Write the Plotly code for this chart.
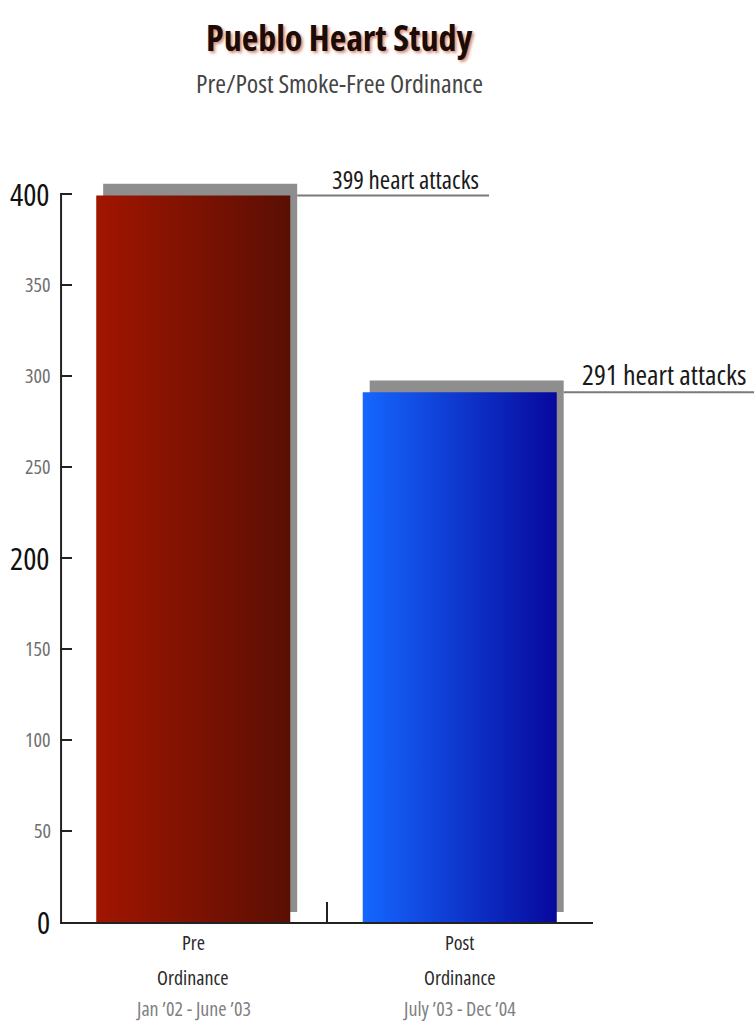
import plotly.graph_objects as go

# ---- data ----
categories = ["Pre", "Post"]
category_line2 = ["Ordinance", "Ordinance"]
category_periods = ["Jan \u201902 - June \u201903", "July \u201903 - Dec \u201904"]
heart_attacks = [399, 291]
value_labels = ["399 heart attacks", "291 heart attacks"]
y_ticks = [0, 50, 100, 150, 200, 250, 300, 350, 400]
title_text = "Pueblo Heart Study"
subtitle_text = "Pre/Post Smoke-Free Ordinance"

FONT = "Open Sans, DejaVu Sans, sans-serif"
gradients = [
    [[0, "#a11500"], [1, "#5a0f04"]],
    [[0, "#1567ff"], [1, "#07089c"]],
]
VALUE_LABEL_SIZES = [25, 28]
BAR_W = 0.728
SH_DX = 0.026
SH_DY = 6.4
X_RANGE = [-0.5, 1.5]
Y_RANGE = [0, 413]

fig = go.Figure()
for i, v in enumerate(heart_attacks):
    x0, x1 = i - BAR_W / 2, i + BAR_W / 2
    fig.add_trace(go.Scatter(
        x=[x0 + SH_DX, x1 + SH_DX, x1 + SH_DX, x0 + SH_DX, x0 + SH_DX],
        y=[5.5, 5.5, v + SH_DY, v + SH_DY, 5.5],
        fill="toself", fillcolor="#8e8e8e", mode="lines", line=dict(width=0),
        hoverinfo="skip", showlegend=False))
    fig.add_trace(go.Scatter(
        x=[x0, x1, x1, x0, x0], y=[0, 0, v, v, 0],
        fill="toself", mode="lines", line=dict(width=0),
        fillgradient=dict(type="horizontal", colorscale=gradients[i]),
        name=categories[i], showlegend=False))

def to_paper(x):
    return (x - X_RANGE[0]) / (X_RANGE[1] - X_RANGE[0])

def cond(s):
    return '<span style="font-stretch:75%">' + s + '</span>'

def f(size, color, weight="normal", shadow=None):
    d = dict(family=FONT, size=size, color=color, weight=weight)
    if shadow:
        d["shadow"] = shadow
    return d

shapes = []
annotations = []
LINE_LEN = 0.36
for i, v in enumerate(heart_attacks):
    px0 = to_paper(i + BAR_W / 2 + SH_DX)
    px1 = px0 + LINE_LEN
    shapes.append(dict(type="line", xref="paper", yref="y", x0=px0, x1=px1, y0=v, y1=v,
                       line=dict(color="#7a7a7a", width=2)))
    annotations.append(dict(text=cond(value_labels[i]), xref="paper", yref="y", x=px1, y=v,
                            xanchor="right", yanchor="bottom", xshift=-8, yshift=-3,
                            showarrow=False, font=f(VALUE_LABEL_SIZES[i], "#1a1a1a")))

shapes.append(dict(type="line", xref="paper", yref="y", x0=0.002, x1=0.002, y0=0, y1=y_ticks[-1],
                   line=dict(color="#222222", width=2)))

for t in y_ticks:
    major = (t % 200 == 0)
    annotations.append(dict(text=cond(str(t)), xref="paper", yref="y", x=0, y=t,
                            xanchor="right", yanchor="middle", xshift=-8 if major else -7,
                            showarrow=False,
                            font=f(31 if major else 20, "#111111" if major else "#707070")))

for i in range(len(categories)):
    for txt, dy, col, sz in [(categories[i], -20, "#2a2a2a", 20),
                             (category_line2[i], -55, "#2a2a2a", 20),
                             (category_periods[i], -86, "#808080", 20)]:
        annotations.append(dict(text=cond(txt), xref="x", yref="y", x=i, y=0, yanchor="middle",
                                yshift=dy, showarrow=False, font=f(sz, col)))

annotations.append(dict(text=cond(title_text), xref="paper", yref="paper",
                        x=to_paper(0.5), y=1, xanchor="center", yanchor="bottom",
                        yshift=106, xshift=12, showarrow=False,
                        font=f(36, "#1c0c08", "bold", "2px 2px 3px rgba(200,90,60,0.7)")))
annotations.append(dict(text=cond(subtitle_text), xref="paper", yref="paper",
                        x=to_paper(0.5), y=1, xanchor="center", yanchor="bottom",
                        yshift=67, xshift=13, showarrow=False,
                        font=f(26, "#444444")))

fig.update_layout(
    width=754, height=1025,
    margin=dict(l=60, r=161, t=170, b=103),
    paper_bgcolor="white", plot_bgcolor="white",
    shapes=shapes, annotations=annotations,
    xaxis=dict(range=X_RANGE, showgrid=False, zeroline=False, showline=True,
               linecolor="#222222", linewidth=2, ticks="inside", ticklen=20,
               tickwidth=2, tickcolor="#222222", tickvals=[0.5, 1.5],
               showticklabels=False, fixedrange=True),
    yaxis=dict(range=Y_RANGE, showgrid=False, zeroline=False, showline=False,
               ticks="inside", ticklen=12, tickwidth=2, tickcolor="#222222",
               tickvals=y_ticks, showticklabels=False, fixedrange=True),
)

fig.write_html("out.html", config={"displayModeBar": False})
